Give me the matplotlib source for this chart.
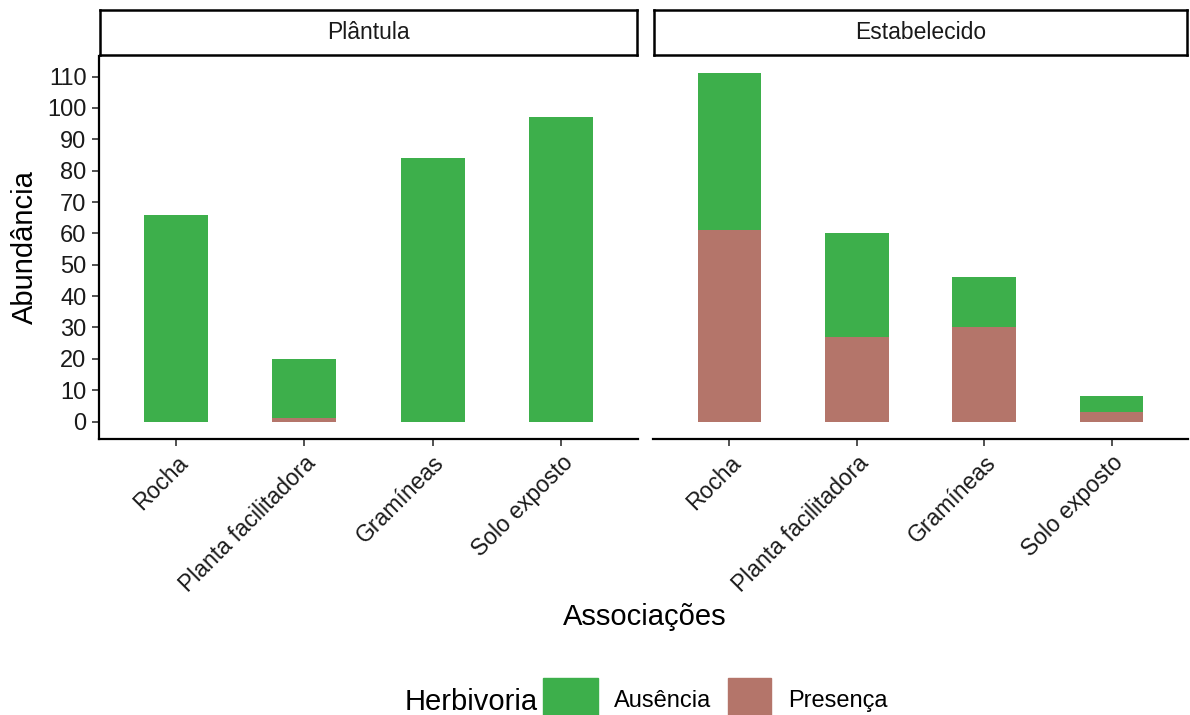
import numpy as np
import matplotlib.pyplot as plt
from matplotlib.patches import Rectangle

plt.rcParams["font.family"] = ["Liberation Sans", "DejaVu Sans"]

categories = ["Rocha", "Planta facilitadora", "Gramíneas", "Solo exposto"]
panels = ["Plântula", "Estabelecido"]
# counts per panel, in category order
presenca = {"Plântula": [0, 1, 0, 0], "Estabelecido": [61, 27, 30, 3]}
ausencia = {"Plântula": [66, 19, 84, 97], "Estabelecido": [50, 33, 16, 5]}
yticks = [0, 10, 20, 30, 40, 50, 60, 70, 80, 90, 100, 110]

green = "#3DAF4B"
brown = "#B4756A"

W, H = 1190, 715
fig = plt.figure(figsize=(W / 100, H / 100), dpi=100)

def fx(px):
    return px / W

def fy(py):
    return 1 - py / H

panel_x = [(99, 638), (653, 1188)]
top, bottom = 56, 439
ymax = 111
ylim = (-ymax * 0.05, ymax * 1.05)

for i, (name, (x0, x1)) in enumerate(zip(panels, panel_x)):
    ax = fig.add_axes([fx(x0), fy(bottom), fx(x1 - x0), fy(top) - fy(bottom)])
    x = np.arange(1, len(categories) + 1)
    p = np.array(presenca[name])
    a = np.array(ausencia[name])
    ax.bar(x, p, width=0.5, color=brown)
    ax.bar(x, a, width=0.5, bottom=p, color=green)
    ax.set_xlim(0.4, 4.6)
    ax.set_ylim(*ylim)
    ax.set_xticks(x)
    ax.set_xticklabels(categories, rotation=45, ha="right", va="top",
                       rotation_mode="anchor", fontsize=16.5, color="#1a1a1a")
    for s in ["top", "right"]:
        ax.spines[s].set_visible(False)
    ax.spines["bottom"].set_linewidth(1.6)
    ax.spines["left"].set_linewidth(1.6)
    ax.tick_params(axis="both", length=5, width=1.2, color="#333333", pad=4)
    if i == 0:
        ax.set_yticks(yticks)
        ax.set_yticklabels([str(t) for t in yticks], fontsize=17, color="#1a1a1a")
        ax.set_ylabel("Abundância", fontsize=21, labelpad=6)
    else:
        ax.spines["left"].set_visible(False)
        ax.set_yticks([])

    # facet strip
    strip = fig.add_axes([fx(x0 + 1), fy(top - 1), fx(x1 - x0 - 2), fy(10) - fy(top - 1)])
    strip.set_xticks([])
    strip.set_yticks([])
    for s in strip.spines.values():
        s.set_linewidth(1.8)
    strip.text(0.5, 0.5, name, ha="center", va="center", fontsize=16.5,
               color="#1a1a1a", transform=strip.transAxes)

fig.text(fx(645), fy(617), "Associações", ha="center", va="center", fontsize=21)

# legend at the bottom (cut by the figure edge as in the original)
fig.text(fx(405), fy(702), "Herbivoria", ha="left", va="center", fontsize=21)
fig.patches.append(Rectangle((fx(543), fy(718)), fx(55), fy(678) - fy(718),
                             transform=fig.transFigure, color=green))
fig.text(fx(614), fy(701), "Ausência", ha="left", va="center", fontsize=17)
fig.patches.append(Rectangle((fx(728), fy(718)), fx(43), fy(678) - fy(718),
                             transform=fig.transFigure, color=brown))
fig.text(fx(788), fy(701), "Presença", ha="left", va="center", fontsize=17)

fig.savefig("out.png", dpi=100)
